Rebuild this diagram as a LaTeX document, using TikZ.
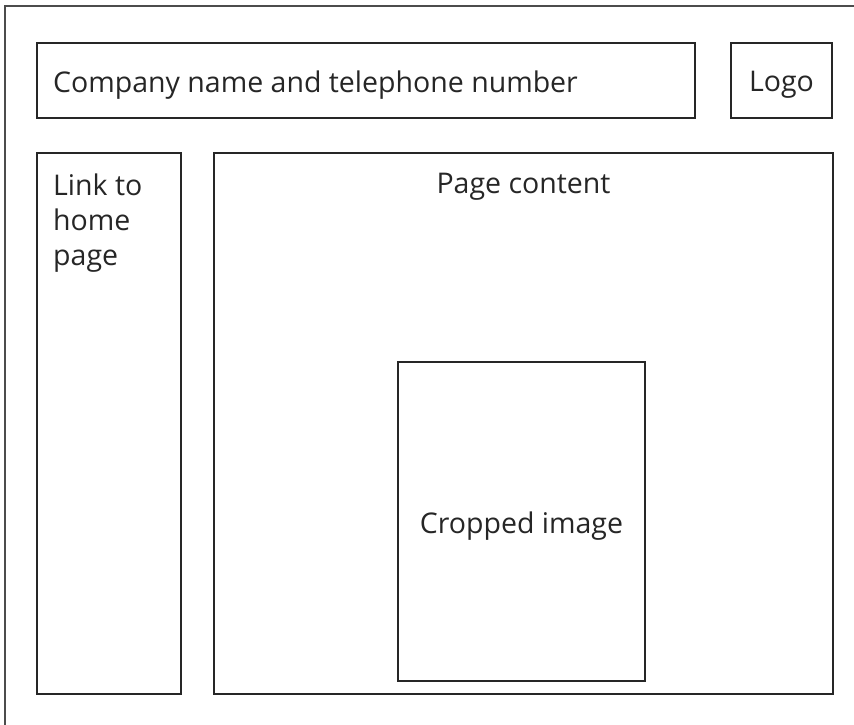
\documentclass[tikz,border=0pt]{standalone}
\usepackage{fontspec}
\setmainfont{Open Sans}
\begin{document}
\begin{tikzpicture}[x=1pt,y=-1pt,
  box/.style={draw=black!85,line width=1.4pt},
  lbl/.style={font=\fontsize{28.5}{35}\selectfont,text=black!85,inner sep=0pt}]
\useasboundingbox (0,0) rectangle (854,725);
\begin{scope}
\clip (0,0) rectangle (854,725);
\draw[draw=black!70,line width=1.6pt] (5,6) rectangle (880,760);
\end{scope}
\draw[box] (37,43) rectangle (695,118);
\draw[box] (731,43) rectangle (832,118);
\draw[box] (37,153) rectangle (181,694);
\draw[box] (214,153) rectangle (833,694);
\draw[box] (398,362) rectangle (645,681);
\node[lbl,anchor=west] (companyname) at (53,85) {Company name and telephone number};
\node[lbl] (logo) at (781.5,85) {Logo};
\node[lbl,anchor=north west,align=left] (link) at (53,174) {Link to\\home\\page};
\node[lbl] (pagecontent) at (523.5,187) {Page content};
\node[lbl] (cropped) at (521.5,526) {Cropped image};
\end{tikzpicture}
\end{document}
